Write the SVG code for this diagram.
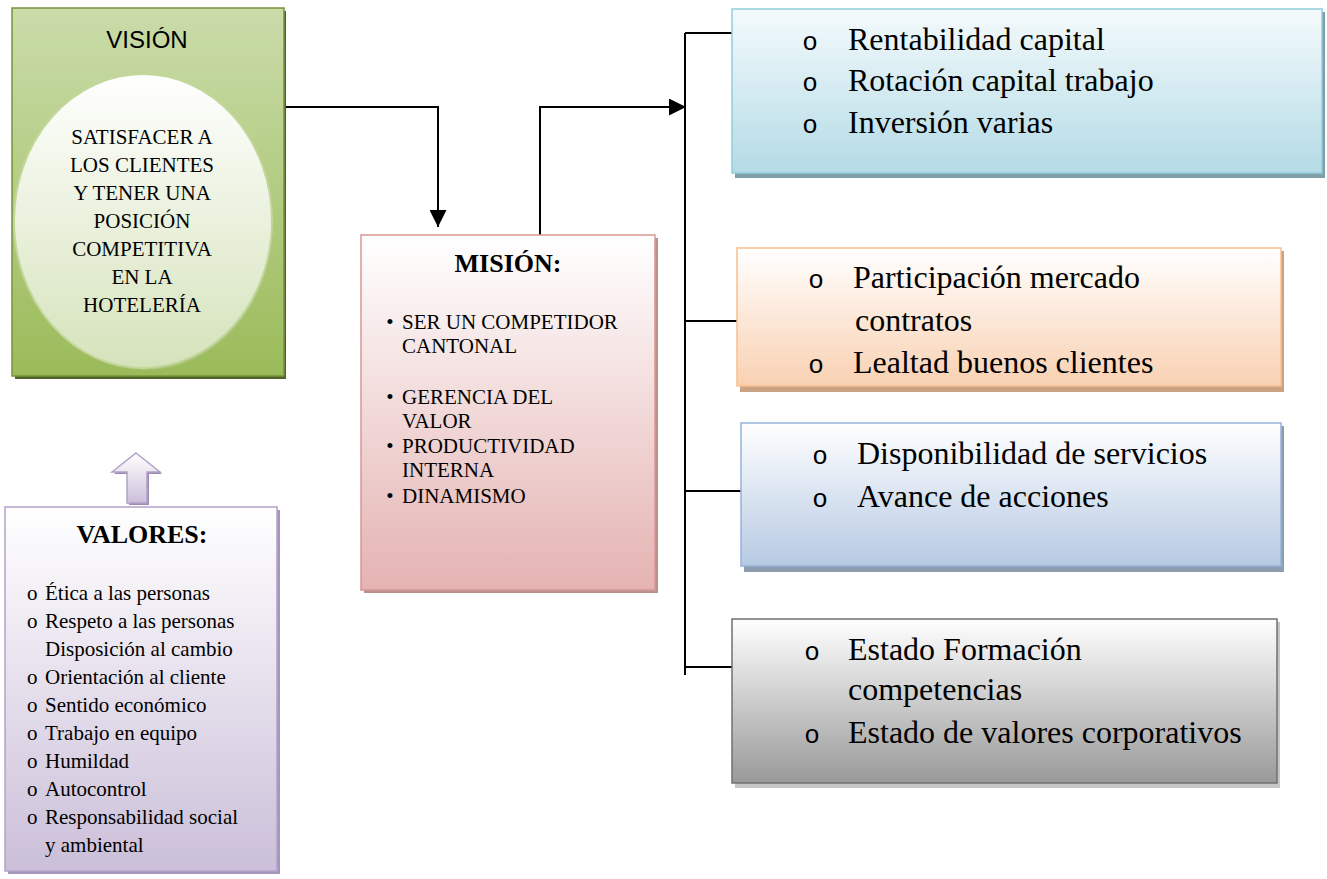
<svg xmlns="http://www.w3.org/2000/svg" width="1327" height="879" viewBox="0 0 1327 879">
<defs>
<linearGradient id="gGreen" x1="0" y1="0" x2="0" y2="1"><stop offset="0" stop-color="#cadcaa"/><stop offset="1" stop-color="#9bbb59"/></linearGradient>
<linearGradient id="gEll" x1="0" y1="0" x2="0" y2="1"><stop offset="0" stop-color="#ffffff"/><stop offset="1" stop-color="#d5e3bb"/></linearGradient>
<linearGradient id="gPink" x1="0" y1="0" x2="0" y2="1"><stop offset="0" stop-color="#ffffff"/><stop offset="1" stop-color="#e4b3b2"/></linearGradient>
<linearGradient id="gLav" x1="0" y1="0" x2="0" y2="1"><stop offset="0" stop-color="#ffffff"/><stop offset="1" stop-color="#cbbfd9"/></linearGradient>
<linearGradient id="gCyan" x1="0" y1="0" x2="0" y2="1"><stop offset="0" stop-color="#f4fafc"/><stop offset="1" stop-color="#b4dbe6"/></linearGradient>
<linearGradient id="gOrange" x1="0" y1="0" x2="0" y2="1"><stop offset="0" stop-color="#ffffff"/><stop offset="1" stop-color="#f9d1b2"/></linearGradient>
<linearGradient id="gBlue" x1="0" y1="0" x2="0" y2="1"><stop offset="0" stop-color="#ffffff"/><stop offset="1" stop-color="#b6cae3"/></linearGradient>
<linearGradient id="gGray" x1="0" y1="0" x2="0" y2="1"><stop offset="0" stop-color="#ffffff"/><stop offset="1" stop-color="#999999"/></linearGradient>
<marker id="arrow" markerUnits="userSpaceOnUse" markerWidth="17" markerHeight="17" viewBox="0 0 16 16" refX="16" refY="8" orient="auto"><path d="M0,0 L16,8 L0,16 z" fill="#000"/></marker>
<style>
.serif{font-family:"Liberation Serif","Times New Roman",serif;fill:#000}
.mono{font-family:"Liberation Mono","Courier New",monospace;fill:#000}
.sans{font-family:"Liberation Sans",Arial,sans-serif;fill:#000}
.conn{fill:none;stroke:#000;stroke-width:2}
.big{font-size:32px}
.mid{font-size:21px}
</style>
</defs>

<g id="connectors">
<path class="conn" d="M280,107 H438 V227" marker-end="url(#arrow)"/>
<path class="conn" d="M540,235 V107 H686" marker-end="url(#arrow)"/>
<path class="conn" d="M685,33 V675"/>
<path class="conn" d="M685,33 H733"/>
<path class="conn" d="M685,321 H743"/>
<path class="conn" d="M685,491 H741"/>
<path class="conn" d="M685,667 H732"/>
</g>

<g id="vision">
<rect x="15" y="11" width="271" height="368" fill="#4f6228"/>
<rect x="12" y="8" width="272" height="368" fill="url(#gGreen)" stroke="#77933c" stroke-width="1.5"/>
<text class="sans" x="147" y="48" font-size="24" text-anchor="middle">VISIÓN</text>
<ellipse cx="145" cy="224" rx="128" ry="146" fill="#a9c57a"/>
<ellipse cx="143" cy="221" rx="129" ry="147" fill="url(#gEll)" stroke="#c3d69b" stroke-width="2"/>
<g class="serif mid" text-anchor="middle">
<text x="142" y="144">SATISFACER A</text>
<text x="142" y="172">LOS CLIENTES</text>
<text x="142" y="200">Y TENER UNA</text>
<text x="142" y="228">POSICIÓN</text>
<text x="142" y="256">COMPETITIVA</text>
<text x="142" y="284">EN LA</text>
<text x="142" y="312">HOTELERÍA</text>
</g>
</g>

<g id="mision">
<rect x="364" y="238" width="294" height="355" fill="#b99190"/>
<rect x="361" y="235" width="294" height="355" fill="url(#gPink)" stroke="#d99694" stroke-width="1.5"/>
<text class="serif" x="508" y="272" font-size="26" font-weight="bold" text-anchor="middle">MISIÓN:</text>
<g class="serif mid">
<text x="390" y="329" text-anchor="middle">•</text><text x="402" y="329">SER UN COMPETIDOR</text>
<text x="402" y="353">CANTONAL</text>
<text x="390" y="404" text-anchor="middle">•</text><text x="402" y="404">GERENCIA DEL</text>
<text x="402" y="428">VALOR</text>
<text x="390" y="453" text-anchor="middle">•</text><text x="402" y="453">PRODUCTIVIDAD</text>
<text x="402" y="477">INTERNA</text>
<text x="390" y="503" text-anchor="middle">•</text><text x="402" y="503">DINAMISMO</text>
</g>
</g>

<g id="valores-arrow">
<polygon points="138,455 162,474 149,474 149,505 129,505 129,474 114,474" fill="#9d8bb3"/>
<polygon points="136,453 160,472 147,472 147,503 127,503 127,472 112,472" fill="url(#gLav)" stroke="#b3a2c7" stroke-width="1.5"/>
</g>

<g id="valores">
<rect x="8" y="510" width="272" height="364" fill="#a796bb"/>
<rect x="5" y="507" width="272" height="364" fill="url(#gLav)" stroke="#b3a2c7" stroke-width="1.5"/>
<text class="serif" x="142" y="543" font-size="26" font-weight="bold" text-anchor="middle">VALORES:</text>
<g class="serif mid">
<text x="27" y="600">o</text><text x="45" y="600">Ética a las personas</text>
<text x="27" y="628">o</text><text x="45" y="628">Respeto a las personas</text>
<text x="45" y="656">Disposición al cambio</text>
<text x="27" y="684">o</text><text x="45" y="684">Orientación al cliente</text>
<text x="27" y="712">o</text><text x="45" y="712">Sentido económico</text>
<text x="27" y="740">o</text><text x="45" y="740">Trabajo en equipo</text>
<text x="27" y="768">o</text><text x="45" y="768">Humildad</text>
<text x="27" y="796">o</text><text x="45" y="796">Autocontrol</text>
<text x="27" y="824">o</text><text x="45" y="824">Responsabilidad social</text>
<text x="45" y="852">y ambiental</text>
</g>
</g>

<g id="financiera">
<rect x="735" y="12" width="590" height="166" fill="#7f9ea8"/>
<rect x="732" y="9" width="590" height="164" fill="url(#gCyan)" stroke="#92cddc" stroke-width="1.5"/>
<g class="mono" font-size="26" text-anchor="middle"><text x="810" y="50">o</text><text x="810" y="91">o</text><text x="810" y="133">o</text></g>
<g class="serif big">
<text x="848" y="50">Rentabilidad capital</text>
<text x="848" y="91">Rotación capital trabajo</text>
<text x="848" y="133">Inversión varias</text>
</g>
</g>

<g id="clientes">
<rect x="740" y="251" width="544" height="141" fill="#c9a383"/>
<rect x="737" y="248" width="544" height="138" fill="url(#gOrange)" stroke="#fabf8f" stroke-width="1.5"/>
<g class="mono" font-size="26" text-anchor="middle"><text x="816" y="288">o</text><text x="816" y="373">o</text></g>
<g class="serif big">
<text x="853" y="288">Participación mercado</text>
<text x="855" y="331">contratos</text>
<text x="853" y="373">Lealtad buenos clientes</text>
</g>
</g>

<g id="procesos">
<rect x="744" y="426" width="540" height="146" fill="#8e9cb0"/>
<rect x="741" y="423" width="540" height="143" fill="url(#gBlue)" stroke="#95b3d7" stroke-width="1.5"/>
<g class="mono" font-size="26" text-anchor="middle"><text x="820" y="464">o</text><text x="820" y="507">o</text></g>
<g class="serif big">
<text x="857" y="464">Disponibilidad de servicios</text>
<text x="857" y="507">Avance de acciones</text>
</g>
</g>

<g id="aprendizaje">
<rect x="735" y="622" width="545" height="166" fill="#c6c6c6"/>
<rect x="732" y="619" width="545" height="164" fill="url(#gGray)" stroke="#707070" stroke-width="1.5"/>
<g class="mono" font-size="26" text-anchor="middle"><text x="812" y="660">o</text><text x="812" y="743">o</text></g>
<g class="serif big">
<text x="848" y="660">Estado Formación</text>
<text x="848" y="700">competencias</text>
<text x="848" y="743">Estado de valores corporativos</text>
</g>
</g>
</svg>
